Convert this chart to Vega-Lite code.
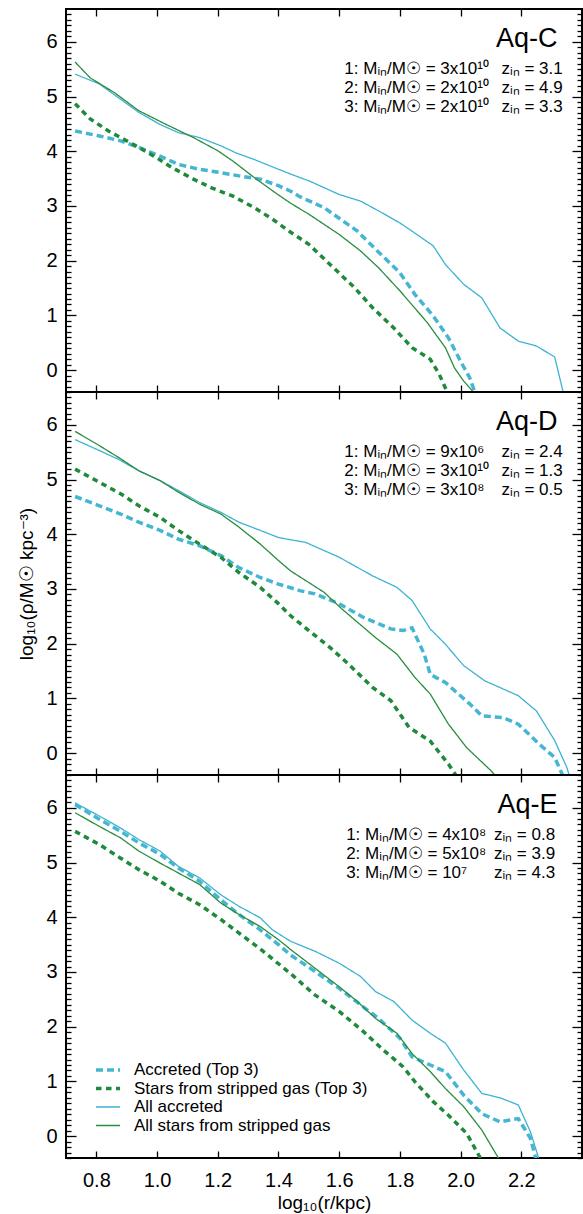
{
  "$schema": "https://vega.github.io/schema/vega-lite/v6.json",
  "background": "white",
  "padding": {"left": 16, "top": 7, "right": 0, "bottom": 0},
  "spacing": 0,
  "bounds": "flush",
  "config": {
    "font": "Liberation Sans",
    "view": {"stroke": "black", "strokeWidth": 2},
    "axis": {"grid": false, "domain": false, "tickColor": "black", "labelColor": "black", "titleColor": "black", "labelFont": "Liberation Sans", "titleFont": "Liberation Sans", "titleFontWeight": "normal", "labelFontSize": 20, "tickWidth": 1.3},
    "text": {"font": "Liberation Sans", "color": "black"}
  },
  "datasets": {
    "profiles": [
      {"panel": "Aq-C", "series": "Accreted (Top 3)", "logr": 0.73, "logrho": 4.37},
      {"panel": "Aq-C", "series": "Accreted (Top 3)", "logr": 0.81, "logrho": 4.28},
      {"panel": "Aq-C", "series": "Accreted (Top 3)", "logr": 0.88, "logrho": 4.19},
      {"panel": "Aq-C", "series": "Accreted (Top 3)", "logr": 0.94, "logrho": 4.07},
      {"panel": "Aq-C", "series": "Accreted (Top 3)", "logr": 1.01, "logrho": 3.91},
      {"panel": "Aq-C", "series": "Accreted (Top 3)", "logr": 1.07, "logrho": 3.76},
      {"panel": "Aq-C", "series": "Accreted (Top 3)", "logr": 1.14, "logrho": 3.67},
      {"panel": "Aq-C", "series": "Accreted (Top 3)", "logr": 1.21, "logrho": 3.61},
      {"panel": "Aq-C", "series": "Accreted (Top 3)", "logr": 1.27, "logrho": 3.55},
      {"panel": "Aq-C", "series": "Accreted (Top 3)", "logr": 1.34, "logrho": 3.49},
      {"panel": "Aq-C", "series": "Accreted (Top 3)", "logr": 1.40, "logrho": 3.37},
      {"panel": "Aq-C", "series": "Accreted (Top 3)", "logr": 1.44, "logrho": 3.27},
      {"panel": "Aq-C", "series": "Accreted (Top 3)", "logr": 1.47, "logrho": 3.17},
      {"panel": "Aq-C", "series": "Accreted (Top 3)", "logr": 1.55, "logrho": 2.97},
      {"panel": "Aq-C", "series": "Accreted (Top 3)", "logr": 1.66, "logrho": 2.54},
      {"panel": "Aq-C", "series": "Accreted (Top 3)", "logr": 1.72, "logrho": 2.21},
      {"panel": "Aq-C", "series": "Accreted (Top 3)", "logr": 1.80, "logrho": 1.78},
      {"panel": "Aq-C", "series": "Accreted (Top 3)", "logr": 1.85, "logrho": 1.38},
      {"panel": "Aq-C", "series": "Accreted (Top 3)", "logr": 1.91, "logrho": 0.99},
      {"panel": "Aq-C", "series": "Accreted (Top 3)", "logr": 1.96, "logrho": 0.59},
      {"panel": "Aq-C", "series": "Accreted (Top 3)", "logr": 2.00, "logrho": 0.16},
      {"panel": "Aq-C", "series": "Accreted (Top 3)", "logr": 2.03, "logrho": -0.14},
      {"panel": "Aq-C", "series": "Accreted (Top 3)", "logr": 2.05, "logrho": -0.45},

      {"panel": "Aq-C", "series": "Stars from stripped gas (Top 3)", "logr": 0.73, "logrho": 4.87},
      {"panel": "Aq-C", "series": "Stars from stripped gas (Top 3)", "logr": 0.78, "logrho": 4.59},
      {"panel": "Aq-C", "series": "Stars from stripped gas (Top 3)", "logr": 0.84, "logrho": 4.37},
      {"panel": "Aq-C", "series": "Stars from stripped gas (Top 3)", "logr": 0.92, "logrho": 4.13},
      {"panel": "Aq-C", "series": "Stars from stripped gas (Top 3)", "logr": 0.99, "logrho": 3.91},
      {"panel": "Aq-C", "series": "Stars from stripped gas (Top 3)", "logr": 1.05, "logrho": 3.70},
      {"panel": "Aq-C", "series": "Stars from stripped gas (Top 3)", "logr": 1.12, "logrho": 3.49},
      {"panel": "Aq-C", "series": "Stars from stripped gas (Top 3)", "logr": 1.18, "logrho": 3.33},
      {"panel": "Aq-C", "series": "Stars from stripped gas (Top 3)", "logr": 1.25, "logrho": 3.18},
      {"panel": "Aq-C", "series": "Stars from stripped gas (Top 3)", "logr": 1.32, "logrho": 2.97},
      {"panel": "Aq-C", "series": "Stars from stripped gas (Top 3)", "logr": 1.38, "logrho": 2.76},
      {"panel": "Aq-C", "series": "Stars from stripped gas (Top 3)", "logr": 1.44, "logrho": 2.52},
      {"panel": "Aq-C", "series": "Stars from stripped gas (Top 3)", "logr": 1.50, "logrho": 2.30},
      {"panel": "Aq-C", "series": "Stars from stripped gas (Top 3)", "logr": 1.57, "logrho": 1.93},
      {"panel": "Aq-C", "series": "Stars from stripped gas (Top 3)", "logr": 1.65, "logrho": 1.51},
      {"panel": "Aq-C", "series": "Stars from stripped gas (Top 3)", "logr": 1.71, "logrho": 1.14},
      {"panel": "Aq-C", "series": "Stars from stripped gas (Top 3)", "logr": 1.78, "logrho": 0.77},
      {"panel": "Aq-C", "series": "Stars from stripped gas (Top 3)", "logr": 1.84, "logrho": 0.41},
      {"panel": "Aq-C", "series": "Stars from stripped gas (Top 3)", "logr": 1.90, "logrho": 0.20},
      {"panel": "Aq-C", "series": "Stars from stripped gas (Top 3)", "logr": 1.93, "logrho": -0.08},
      {"panel": "Aq-C", "series": "Stars from stripped gas (Top 3)", "logr": 1.96, "logrho": -0.45},

      {"panel": "Aq-C", "series": "All accreted", "logr": 0.73, "logrho": 5.41},
      {"panel": "Aq-C", "series": "All accreted", "logr": 0.81, "logrho": 5.23},
      {"panel": "Aq-C", "series": "All accreted", "logr": 0.94, "logrho": 4.71},
      {"panel": "Aq-C", "series": "All accreted", "logr": 1.01, "logrho": 4.49},
      {"panel": "Aq-C", "series": "All accreted", "logr": 1.07, "logrho": 4.34},
      {"panel": "Aq-C", "series": "All accreted", "logr": 1.14, "logrho": 4.25},
      {"panel": "Aq-C", "series": "All accreted", "logr": 1.21, "logrho": 4.10},
      {"panel": "Aq-C", "series": "All accreted", "logr": 1.26, "logrho": 3.97},
      {"panel": "Aq-C", "series": "All accreted", "logr": 1.32, "logrho": 3.85},
      {"panel": "Aq-C", "series": "All accreted", "logr": 1.36, "logrho": 3.76},
      {"panel": "Aq-C", "series": "All accreted", "logr": 1.40, "logrho": 3.67},
      {"panel": "Aq-C", "series": "All accreted", "logr": 1.47, "logrho": 3.52},
      {"panel": "Aq-C", "series": "All accreted", "logr": 1.50, "logrho": 3.46},
      {"panel": "Aq-C", "series": "All accreted", "logr": 1.60, "logrho": 3.21},
      {"panel": "Aq-C", "series": "All accreted", "logr": 1.67, "logrho": 3.09},
      {"panel": "Aq-C", "series": "All accreted", "logr": 1.73, "logrho": 2.91},
      {"panel": "Aq-C", "series": "All accreted", "logr": 1.80, "logrho": 2.69},
      {"panel": "Aq-C", "series": "All accreted", "logr": 1.84, "logrho": 2.54},
      {"panel": "Aq-C", "series": "All accreted", "logr": 1.91, "logrho": 2.27},
      {"panel": "Aq-C", "series": "All accreted", "logr": 1.95, "logrho": 1.93},
      {"panel": "Aq-C", "series": "All accreted", "logr": 2.01, "logrho": 1.57},
      {"panel": "Aq-C", "series": "All accreted", "logr": 2.07, "logrho": 1.32},
      {"panel": "Aq-C", "series": "All accreted", "logr": 2.13, "logrho": 0.77},
      {"panel": "Aq-C", "series": "All accreted", "logr": 2.19, "logrho": 0.53},
      {"panel": "Aq-C", "series": "All accreted", "logr": 2.25, "logrho": 0.44},
      {"panel": "Aq-C", "series": "All accreted", "logr": 2.31, "logrho": 0.24},
      {"panel": "Aq-C", "series": "All accreted", "logr": 2.34, "logrho": -0.45},

      {"panel": "Aq-C", "series": "All stars from stripped gas", "logr": 0.73, "logrho": 5.63},
      {"panel": "Aq-C", "series": "All stars from stripped gas", "logr": 0.78, "logrho": 5.34},
      {"panel": "Aq-C", "series": "All stars from stripped gas", "logr": 0.86, "logrho": 5.07},
      {"panel": "Aq-C", "series": "All stars from stripped gas", "logr": 0.94, "logrho": 4.74},
      {"panel": "Aq-C", "series": "All stars from stripped gas", "logr": 1.03, "logrho": 4.49},
      {"panel": "Aq-C", "series": "All stars from stripped gas", "logr": 1.12, "logrho": 4.25},
      {"panel": "Aq-C", "series": "All stars from stripped gas", "logr": 1.20, "logrho": 4.01},
      {"panel": "Aq-C", "series": "All stars from stripped gas", "logr": 1.25, "logrho": 3.82},
      {"panel": "Aq-C", "series": "All stars from stripped gas", "logr": 1.32, "logrho": 3.52},
      {"panel": "Aq-C", "series": "All stars from stripped gas", "logr": 1.39, "logrho": 3.24},
      {"panel": "Aq-C", "series": "All stars from stripped gas", "logr": 1.44, "logrho": 3.05},
      {"panel": "Aq-C", "series": "All stars from stripped gas", "logr": 1.50, "logrho": 2.85},
      {"panel": "Aq-C", "series": "All stars from stripped gas", "logr": 1.60, "logrho": 2.48},
      {"panel": "Aq-C", "series": "All stars from stripped gas", "logr": 1.67, "logrho": 2.18},
      {"panel": "Aq-C", "series": "All stars from stripped gas", "logr": 1.73, "logrho": 1.87},
      {"panel": "Aq-C", "series": "All stars from stripped gas", "logr": 1.80, "logrho": 1.45},
      {"panel": "Aq-C", "series": "All stars from stripped gas", "logr": 1.89, "logrho": 0.87},
      {"panel": "Aq-C", "series": "All stars from stripped gas", "logr": 1.95, "logrho": 0.41},
      {"panel": "Aq-C", "series": "All stars from stripped gas", "logr": 1.98, "logrho": 0.04},
      {"panel": "Aq-C", "series": "All stars from stripped gas", "logr": 2.01, "logrho": -0.20},
      {"panel": "Aq-C", "series": "All stars from stripped gas", "logr": 2.05, "logrho": -0.45},

      {"panel": "Aq-D", "series": "Accreted (Top 3)", "logr": 0.73, "logrho": 4.69},
      {"panel": "Aq-D", "series": "Accreted (Top 3)", "logr": 0.81, "logrho": 4.52},
      {"panel": "Aq-D", "series": "Accreted (Top 3)", "logr": 0.88, "logrho": 4.37},
      {"panel": "Aq-D", "series": "Accreted (Top 3)", "logr": 0.94, "logrho": 4.22},
      {"panel": "Aq-D", "series": "Accreted (Top 3)", "logr": 1.01, "logrho": 4.07},
      {"panel": "Aq-D", "series": "Accreted (Top 3)", "logr": 1.07, "logrho": 3.91},
      {"panel": "Aq-D", "series": "Accreted (Top 3)", "logr": 1.14, "logrho": 3.79},
      {"panel": "Aq-D", "series": "Accreted (Top 3)", "logr": 1.21, "logrho": 3.61},
      {"panel": "Aq-D", "series": "Accreted (Top 3)", "logr": 1.27, "logrho": 3.39},
      {"panel": "Aq-D", "series": "Accreted (Top 3)", "logr": 1.34, "logrho": 3.21},
      {"panel": "Aq-D", "series": "Accreted (Top 3)", "logr": 1.40, "logrho": 3.09},
      {"panel": "Aq-D", "series": "Accreted (Top 3)", "logr": 1.47, "logrho": 2.97},
      {"panel": "Aq-D", "series": "Accreted (Top 3)", "logr": 1.52, "logrho": 2.91},
      {"panel": "Aq-D", "series": "Accreted (Top 3)", "logr": 1.60, "logrho": 2.73},
      {"panel": "Aq-D", "series": "Accreted (Top 3)", "logr": 1.68, "logrho": 2.48},
      {"panel": "Aq-D", "series": "Accreted (Top 3)", "logr": 1.77, "logrho": 2.27},
      {"panel": "Aq-D", "series": "Accreted (Top 3)", "logr": 1.81, "logrho": 2.24},
      {"panel": "Aq-D", "series": "Accreted (Top 3)", "logr": 1.84, "logrho": 2.29},
      {"panel": "Aq-D", "series": "Accreted (Top 3)", "logr": 1.88, "logrho": 1.81},
      {"panel": "Aq-D", "series": "Accreted (Top 3)", "logr": 1.90, "logrho": 1.44},
      {"panel": "Aq-D", "series": "Accreted (Top 3)", "logr": 1.95, "logrho": 1.29},
      {"panel": "Aq-D", "series": "Accreted (Top 3)", "logr": 2.03, "logrho": 0.90},
      {"panel": "Aq-D", "series": "Accreted (Top 3)", "logr": 2.07, "logrho": 0.68},
      {"panel": "Aq-D", "series": "Accreted (Top 3)", "logr": 2.14, "logrho": 0.65},
      {"panel": "Aq-D", "series": "Accreted (Top 3)", "logr": 2.19, "logrho": 0.53},
      {"panel": "Aq-D", "series": "Accreted (Top 3)", "logr": 2.26, "logrho": 0.16},
      {"panel": "Aq-D", "series": "Accreted (Top 3)", "logr": 2.31, "logrho": -0.08},
      {"panel": "Aq-D", "series": "Accreted (Top 3)", "logr": 2.34, "logrho": -0.45},

      {"panel": "Aq-D", "series": "Stars from stripped gas (Top 3)", "logr": 0.73, "logrho": 5.19},
      {"panel": "Aq-D", "series": "Stars from stripped gas (Top 3)", "logr": 0.81, "logrho": 4.95},
      {"panel": "Aq-D", "series": "Stars from stripped gas (Top 3)", "logr": 0.88, "logrho": 4.74},
      {"panel": "Aq-D", "series": "Stars from stripped gas (Top 3)", "logr": 0.94, "logrho": 4.52},
      {"panel": "Aq-D", "series": "Stars from stripped gas (Top 3)", "logr": 1.01, "logrho": 4.31},
      {"panel": "Aq-D", "series": "Stars from stripped gas (Top 3)", "logr": 1.07, "logrho": 4.07},
      {"panel": "Aq-D", "series": "Stars from stripped gas (Top 3)", "logr": 1.14, "logrho": 3.82},
      {"panel": "Aq-D", "series": "Stars from stripped gas (Top 3)", "logr": 1.21, "logrho": 3.58},
      {"panel": "Aq-D", "series": "Stars from stripped gas (Top 3)", "logr": 1.27, "logrho": 3.30},
      {"panel": "Aq-D", "series": "Stars from stripped gas (Top 3)", "logr": 1.34, "logrho": 3.03},
      {"panel": "Aq-D", "series": "Stars from stripped gas (Top 3)", "logr": 1.40, "logrho": 2.73},
      {"panel": "Aq-D", "series": "Stars from stripped gas (Top 3)", "logr": 1.44, "logrho": 2.51},
      {"panel": "Aq-D", "series": "Stars from stripped gas (Top 3)", "logr": 1.50, "logrho": 2.24},
      {"panel": "Aq-D", "series": "Stars from stripped gas (Top 3)", "logr": 1.57, "logrho": 1.93},
      {"panel": "Aq-D", "series": "Stars from stripped gas (Top 3)", "logr": 1.63, "logrho": 1.63},
      {"panel": "Aq-D", "series": "Stars from stripped gas (Top 3)", "logr": 1.71, "logrho": 1.20},
      {"panel": "Aq-D", "series": "Stars from stripped gas (Top 3)", "logr": 1.77, "logrho": 0.96},
      {"panel": "Aq-D", "series": "Stars from stripped gas (Top 3)", "logr": 1.83, "logrho": 0.47},
      {"panel": "Aq-D", "series": "Stars from stripped gas (Top 3)", "logr": 1.90, "logrho": 0.22},
      {"panel": "Aq-D", "series": "Stars from stripped gas (Top 3)", "logr": 1.96, "logrho": -0.20},
      {"panel": "Aq-D", "series": "Stars from stripped gas (Top 3)", "logr": 1.99, "logrho": -0.45},

      {"panel": "Aq-D", "series": "All accreted", "logr": 0.73, "logrho": 5.73},
      {"panel": "Aq-D", "series": "All accreted", "logr": 0.81, "logrho": 5.53},
      {"panel": "Aq-D", "series": "All accreted", "logr": 0.88, "logrho": 5.35},
      {"panel": "Aq-D", "series": "All accreted", "logr": 0.94, "logrho": 5.16},
      {"panel": "Aq-D", "series": "All accreted", "logr": 1.01, "logrho": 4.98},
      {"panel": "Aq-D", "series": "All accreted", "logr": 1.07, "logrho": 4.80},
      {"panel": "Aq-D", "series": "All accreted", "logr": 1.14, "logrho": 4.58},
      {"panel": "Aq-D", "series": "All accreted", "logr": 1.21, "logrho": 4.40},
      {"panel": "Aq-D", "series": "All accreted", "logr": 1.27, "logrho": 4.22},
      {"panel": "Aq-D", "series": "All accreted", "logr": 1.34, "logrho": 4.07},
      {"panel": "Aq-D", "series": "All accreted", "logr": 1.40, "logrho": 3.94},
      {"panel": "Aq-D", "series": "All accreted", "logr": 1.45, "logrho": 3.89},
      {"panel": "Aq-D", "series": "All accreted", "logr": 1.49, "logrho": 3.85},
      {"panel": "Aq-D", "series": "All accreted", "logr": 1.60, "logrho": 3.58},
      {"panel": "Aq-D", "series": "All accreted", "logr": 1.71, "logrho": 3.24},
      {"panel": "Aq-D", "series": "All accreted", "logr": 1.79, "logrho": 3.03},
      {"panel": "Aq-D", "series": "All accreted", "logr": 1.84, "logrho": 2.79},
      {"panel": "Aq-D", "series": "All accreted", "logr": 1.90, "logrho": 2.27},
      {"panel": "Aq-D", "series": "All accreted", "logr": 1.95, "logrho": 1.99},
      {"panel": "Aq-D", "series": "All accreted", "logr": 2.01, "logrho": 1.60},
      {"panel": "Aq-D", "series": "All accreted", "logr": 2.08, "logrho": 1.32},
      {"panel": "Aq-D", "series": "All accreted", "logr": 2.19, "logrho": 1.05},
      {"panel": "Aq-D", "series": "All accreted", "logr": 2.25, "logrho": 0.77},
      {"panel": "Aq-D", "series": "All accreted", "logr": 2.31, "logrho": 0.23},
      {"panel": "Aq-D", "series": "All accreted", "logr": 2.35, "logrho": -0.26},
      {"panel": "Aq-D", "series": "All accreted", "logr": 2.36, "logrho": -0.45},

      {"panel": "Aq-D", "series": "All stars from stripped gas", "logr": 0.73, "logrho": 5.88},
      {"panel": "Aq-D", "series": "All stars from stripped gas", "logr": 0.81, "logrho": 5.62},
      {"panel": "Aq-D", "series": "All stars from stripped gas", "logr": 0.88, "logrho": 5.38},
      {"panel": "Aq-D", "series": "All stars from stripped gas", "logr": 0.94, "logrho": 5.16},
      {"panel": "Aq-D", "series": "All stars from stripped gas", "logr": 1.01, "logrho": 4.98},
      {"panel": "Aq-D", "series": "All stars from stripped gas", "logr": 1.07, "logrho": 4.77},
      {"panel": "Aq-D", "series": "All stars from stripped gas", "logr": 1.14, "logrho": 4.55},
      {"panel": "Aq-D", "series": "All stars from stripped gas", "logr": 1.21, "logrho": 4.37},
      {"panel": "Aq-D", "series": "All stars from stripped gas", "logr": 1.27, "logrho": 4.13},
      {"panel": "Aq-D", "series": "All stars from stripped gas", "logr": 1.34, "logrho": 3.82},
      {"panel": "Aq-D", "series": "All stars from stripped gas", "logr": 1.40, "logrho": 3.52},
      {"panel": "Aq-D", "series": "All stars from stripped gas", "logr": 1.44, "logrho": 3.33},
      {"panel": "Aq-D", "series": "All stars from stripped gas", "logr": 1.55, "logrho": 2.94},
      {"panel": "Aq-D", "series": "All stars from stripped gas", "logr": 1.61, "logrho": 2.63},
      {"panel": "Aq-D", "series": "All stars from stripped gas", "logr": 1.72, "logrho": 2.11},
      {"panel": "Aq-D", "series": "All stars from stripped gas", "logr": 1.79, "logrho": 1.81},
      {"panel": "Aq-D", "series": "All stars from stripped gas", "logr": 1.85, "logrho": 1.38},
      {"panel": "Aq-D", "series": "All stars from stripped gas", "logr": 1.90, "logrho": 1.08},
      {"panel": "Aq-D", "series": "All stars from stripped gas", "logr": 1.96, "logrho": 0.53},
      {"panel": "Aq-D", "series": "All stars from stripped gas", "logr": 2.02, "logrho": 0.10},
      {"panel": "Aq-D", "series": "All stars from stripped gas", "logr": 2.10, "logrho": -0.32},
      {"panel": "Aq-D", "series": "All stars from stripped gas", "logr": 2.12, "logrho": -0.45},

      {"panel": "Aq-E", "series": "Accreted (Top 3)", "logr": 0.73, "logrho": 6.06},
      {"panel": "Aq-E", "series": "Accreted (Top 3)", "logr": 0.81, "logrho": 5.79},
      {"panel": "Aq-E", "series": "Accreted (Top 3)", "logr": 0.88, "logrho": 5.57},
      {"panel": "Aq-E", "series": "Accreted (Top 3)", "logr": 0.94, "logrho": 5.36},
      {"panel": "Aq-E", "series": "Accreted (Top 3)", "logr": 1.01, "logrho": 5.15},
      {"panel": "Aq-E", "series": "Accreted (Top 3)", "logr": 1.07, "logrho": 4.90},
      {"panel": "Aq-E", "series": "Accreted (Top 3)", "logr": 1.14, "logrho": 4.66},
      {"panel": "Aq-E", "series": "Accreted (Top 3)", "logr": 1.21, "logrho": 4.32},
      {"panel": "Aq-E", "series": "Accreted (Top 3)", "logr": 1.27, "logrho": 4.05},
      {"panel": "Aq-E", "series": "Accreted (Top 3)", "logr": 1.34, "logrho": 3.77},
      {"panel": "Aq-E", "series": "Accreted (Top 3)", "logr": 1.40, "logrho": 3.50},
      {"panel": "Aq-E", "series": "Accreted (Top 3)", "logr": 1.44, "logrho": 3.31},
      {"panel": "Aq-E", "series": "Accreted (Top 3)", "logr": 1.52, "logrho": 3.01},
      {"panel": "Aq-E", "series": "Accreted (Top 3)", "logr": 1.60, "logrho": 2.70},
      {"panel": "Aq-E", "series": "Accreted (Top 3)", "logr": 1.67, "logrho": 2.40},
      {"panel": "Aq-E", "series": "Accreted (Top 3)", "logr": 1.73, "logrho": 2.15},
      {"panel": "Aq-E", "series": "Accreted (Top 3)", "logr": 1.80, "logrho": 1.79},
      {"panel": "Aq-E", "series": "Accreted (Top 3)", "logr": 1.84, "logrho": 1.45},
      {"panel": "Aq-E", "series": "Accreted (Top 3)", "logr": 1.90, "logrho": 1.30},
      {"panel": "Aq-E", "series": "Accreted (Top 3)", "logr": 1.95, "logrho": 1.18},
      {"panel": "Aq-E", "series": "Accreted (Top 3)", "logr": 2.01, "logrho": 0.75},
      {"panel": "Aq-E", "series": "Accreted (Top 3)", "logr": 2.07, "logrho": 0.41},
      {"panel": "Aq-E", "series": "Accreted (Top 3)", "logr": 2.13, "logrho": 0.26},
      {"panel": "Aq-E", "series": "Accreted (Top 3)", "logr": 2.19, "logrho": 0.32},
      {"panel": "Aq-E", "series": "Accreted (Top 3)", "logr": 2.23, "logrho": -0.04},
      {"panel": "Aq-E", "series": "Accreted (Top 3)", "logr": 2.25, "logrho": -0.45},

      {"panel": "Aq-E", "series": "Stars from stripped gas (Top 3)", "logr": 0.73, "logrho": 5.57},
      {"panel": "Aq-E", "series": "Stars from stripped gas (Top 3)", "logr": 0.81, "logrho": 5.33},
      {"panel": "Aq-E", "series": "Stars from stripped gas (Top 3)", "logr": 0.88, "logrho": 5.08},
      {"panel": "Aq-E", "series": "Stars from stripped gas (Top 3)", "logr": 0.94, "logrho": 4.87},
      {"panel": "Aq-E", "series": "Stars from stripped gas (Top 3)", "logr": 1.01, "logrho": 4.66},
      {"panel": "Aq-E", "series": "Stars from stripped gas (Top 3)", "logr": 1.07, "logrho": 4.44},
      {"panel": "Aq-E", "series": "Stars from stripped gas (Top 3)", "logr": 1.14, "logrho": 4.23},
      {"panel": "Aq-E", "series": "Stars from stripped gas (Top 3)", "logr": 1.21, "logrho": 3.96},
      {"panel": "Aq-E", "series": "Stars from stripped gas (Top 3)", "logr": 1.27, "logrho": 3.71},
      {"panel": "Aq-E", "series": "Stars from stripped gas (Top 3)", "logr": 1.34, "logrho": 3.42},
      {"panel": "Aq-E", "series": "Stars from stripped gas (Top 3)", "logr": 1.40, "logrho": 3.15},
      {"panel": "Aq-E", "series": "Stars from stripped gas (Top 3)", "logr": 1.44, "logrho": 2.97},
      {"panel": "Aq-E", "series": "Stars from stripped gas (Top 3)", "logr": 1.52, "logrho": 2.58},
      {"panel": "Aq-E", "series": "Stars from stripped gas (Top 3)", "logr": 1.60, "logrho": 2.28},
      {"panel": "Aq-E", "series": "Stars from stripped gas (Top 3)", "logr": 1.68, "logrho": 1.91},
      {"panel": "Aq-E", "series": "Stars from stripped gas (Top 3)", "logr": 1.74, "logrho": 1.60},
      {"panel": "Aq-E", "series": "Stars from stripped gas (Top 3)", "logr": 1.81, "logrho": 1.27},
      {"panel": "Aq-E", "series": "Stars from stripped gas (Top 3)", "logr": 1.85, "logrho": 0.99},
      {"panel": "Aq-E", "series": "Stars from stripped gas (Top 3)", "logr": 1.91, "logrho": 0.63},
      {"panel": "Aq-E", "series": "Stars from stripped gas (Top 3)", "logr": 1.96, "logrho": 0.38},
      {"panel": "Aq-E", "series": "Stars from stripped gas (Top 3)", "logr": 2.02, "logrho": 0.05},
      {"panel": "Aq-E", "series": "Stars from stripped gas (Top 3)", "logr": 2.06, "logrho": -0.35},
      {"panel": "Aq-E", "series": "Stars from stripped gas (Top 3)", "logr": 2.07, "logrho": -0.45},

      {"panel": "Aq-E", "series": "All accreted", "logr": 0.73, "logrho": 6.09},
      {"panel": "Aq-E", "series": "All accreted", "logr": 0.81, "logrho": 5.85},
      {"panel": "Aq-E", "series": "All accreted", "logr": 0.88, "logrho": 5.63},
      {"panel": "Aq-E", "series": "All accreted", "logr": 0.94, "logrho": 5.42},
      {"panel": "Aq-E", "series": "All accreted", "logr": 1.01, "logrho": 5.21},
      {"panel": "Aq-E", "series": "All accreted", "logr": 1.07, "logrho": 4.93},
      {"panel": "Aq-E", "series": "All accreted", "logr": 1.14, "logrho": 4.72},
      {"panel": "Aq-E", "series": "All accreted", "logr": 1.21, "logrho": 4.41},
      {"panel": "Aq-E", "series": "All accreted", "logr": 1.27, "logrho": 4.20},
      {"panel": "Aq-E", "series": "All accreted", "logr": 1.34, "logrho": 3.99},
      {"panel": "Aq-E", "series": "All accreted", "logr": 1.38, "logrho": 3.77},
      {"panel": "Aq-E", "series": "All accreted", "logr": 1.44, "logrho": 3.56},
      {"panel": "Aq-E", "series": "All accreted", "logr": 1.52, "logrho": 3.38},
      {"panel": "Aq-E", "series": "All accreted", "logr": 1.60, "logrho": 3.16},
      {"panel": "Aq-E", "series": "All accreted", "logr": 1.67, "logrho": 2.92},
      {"panel": "Aq-E", "series": "All accreted", "logr": 1.72, "logrho": 2.64},
      {"panel": "Aq-E", "series": "All accreted", "logr": 1.78, "logrho": 2.46},
      {"panel": "Aq-E", "series": "All accreted", "logr": 1.84, "logrho": 2.12},
      {"panel": "Aq-E", "series": "All accreted", "logr": 1.90, "logrho": 1.88},
      {"panel": "Aq-E", "series": "All accreted", "logr": 1.95, "logrho": 1.70},
      {"panel": "Aq-E", "series": "All accreted", "logr": 2.01, "logrho": 1.21},
      {"panel": "Aq-E", "series": "All accreted", "logr": 2.07, "logrho": 0.78},
      {"panel": "Aq-E", "series": "All accreted", "logr": 2.13, "logrho": 0.70},
      {"panel": "Aq-E", "series": "All accreted", "logr": 2.19, "logrho": 0.57},
      {"panel": "Aq-E", "series": "All accreted", "logr": 2.23, "logrho": 0.08},
      {"panel": "Aq-E", "series": "All accreted", "logr": 2.26, "logrho": -0.45},

      {"panel": "Aq-E", "series": "All stars from stripped gas", "logr": 0.73, "logrho": 5.91},
      {"panel": "Aq-E", "series": "All stars from stripped gas", "logr": 0.81, "logrho": 5.66},
      {"panel": "Aq-E", "series": "All stars from stripped gas", "logr": 0.88, "logrho": 5.45},
      {"panel": "Aq-E", "series": "All stars from stripped gas", "logr": 0.94, "logrho": 5.21},
      {"panel": "Aq-E", "series": "All stars from stripped gas", "logr": 1.01, "logrho": 4.99},
      {"panel": "Aq-E", "series": "All stars from stripped gas", "logr": 1.07, "logrho": 4.81},
      {"panel": "Aq-E", "series": "All stars from stripped gas", "logr": 1.14, "logrho": 4.60},
      {"panel": "Aq-E", "series": "All stars from stripped gas", "logr": 1.21, "logrho": 4.26},
      {"panel": "Aq-E", "series": "All stars from stripped gas", "logr": 1.27, "logrho": 4.05},
      {"panel": "Aq-E", "series": "All stars from stripped gas", "logr": 1.34, "logrho": 3.83},
      {"panel": "Aq-E", "series": "All stars from stripped gas", "logr": 1.40, "logrho": 3.59},
      {"panel": "Aq-E", "series": "All stars from stripped gas", "logr": 1.44, "logrho": 3.41},
      {"panel": "Aq-E", "series": "All stars from stripped gas", "logr": 1.52, "logrho": 3.07},
      {"panel": "Aq-E", "series": "All stars from stripped gas", "logr": 1.60, "logrho": 2.73},
      {"panel": "Aq-E", "series": "All stars from stripped gas", "logr": 1.66, "logrho": 2.46},
      {"panel": "Aq-E", "series": "All stars from stripped gas", "logr": 1.72, "logrho": 2.15},
      {"panel": "Aq-E", "series": "All stars from stripped gas", "logr": 1.79, "logrho": 1.88},
      {"panel": "Aq-E", "series": "All stars from stripped gas", "logr": 1.84, "logrho": 1.51},
      {"panel": "Aq-E", "series": "All stars from stripped gas", "logr": 1.90, "logrho": 1.18},
      {"panel": "Aq-E", "series": "All stars from stripped gas", "logr": 1.95, "logrho": 0.87},
      {"panel": "Aq-E", "series": "All stars from stripped gas", "logr": 2.01, "logrho": 0.54},
      {"panel": "Aq-E", "series": "All stars from stripped gas", "logr": 2.07, "logrho": 0.11},
      {"panel": "Aq-E", "series": "All stars from stripped gas", "logr": 2.13, "logrho": -0.45}
    ]
  },
  "resolve": {"legend": {"color": "independent", "strokeDash": "independent", "strokeWidth": "independent"}},
  "vconcat": [
    {
      "width": 516, "height": 383,
      "layer": [
        {
          "data": {"name": "profiles"},
          "transform": [{"filter": "datum.panel === 'Aq-C'"}],
          "mark": {"type": "line", "clip": true},
          "encoding": {
            "x": {"field": "logr", "type": "quantitative", "scale": {"domain": [0.7, 2.4], "nice": false, "zero": false},
                  "axis": {"orient": "bottom", "offset": 0, "values": [0.8, 1.0, 1.2, 1.4, 1.6, 1.8, 2.0, 2.2], "tickSize": -7, "labels": false, "title": null}},
            "y": {"field": "logrho", "type": "quantitative", "scale": {"domain": [-0.4, 6.6], "nice": false, "zero": false},
                  "axis": {"orient": "left", "offset": 0, "title": null, "values": [0, 1, 2, 3, 4, 5, 6], "format": "d", "tickSize": -10, "labelPadding": 19, "labelOverlap": false}},
            "color": {"field": "series", "type": "nominal", "legend": null,
                      "scale": {"domain": ["Accreted (Top 3)", "Stars from stripped gas (Top 3)", "All accreted", "All stars from stripped gas"], "range": ["#45b6d2", "#1f8a3c", "#3cb3d3", "#2a8c3e"]}},
            "strokeDash": {"field": "series", "type": "nominal", "legend": null,
                      "scale": {"domain": ["Accreted (Top 3)", "Stars from stripped gas (Top 3)", "All accreted", "All stars from stripped gas"], "range": [[7, 4], [5.5, 4.5], [1, 0], [1, 0]]}},
            "strokeWidth": {"field": "series", "type": "nominal", "legend": null,
                      "scale": {"type": "ordinal", "domain": ["Accreted (Top 3)", "Stars from stripped gas (Top 3)", "All accreted", "All stars from stripped gas"], "range": [3.5, 3.5, 1.3, 1.3]}}
          }
        },
        {
          "data": {"name": "profiles"},
          "transform": [{"filter": "datum.panel === 'Aq-C'"}],
          "mark": {"type": "point", "opacity": 0, "clip": true},
          "encoding": {
            "x": {"field": "logr", "type": "quantitative", "axis": {"orient": "top", "offset": 0, "values": [0.8, 1.0, 1.2, 1.4, 1.6, 1.8, 2.0, 2.2], "tickSize": -7, "labels": false, "title": null}},
            "y": {"field": "logrho", "type": "quantitative", "axis": {"orient": "right", "offset": 0, "title": null, "labels": false, "values": [0, 1, 2, 3, 4, 5, 6], "tickSize": -10}}
          }
        },
        {
          "data": {"name": "profiles"},
          "transform": [{"filter": "datum.panel === 'Aq-C'"}],
          "mark": {"type": "point", "opacity": 0, "clip": true},
          "encoding": {
            "x": {"field": "logr", "type": "quantitative", "axis": null},
            "y": {"field": "logrho", "type": "quantitative", "axis": {"orient": "left", "offset": 0, "title": null, "labels": false, "tickSize": -5,
                  "values": [-0.4,-0.3,-0.2,-0.1,0.1,0.2,0.3,0.4,0.5,0.6,0.7,0.8,0.9,1.1,1.2,1.3,1.4,1.5,1.6,1.7,1.8,1.9,2.1,2.2,2.3,2.4,2.5,2.6,2.7,2.8,2.9,3.1,3.2,3.3,3.4,3.5,3.6,3.7,3.8,3.9,4.1,4.2,4.3,4.4,4.5,4.6,4.7,4.8,4.9,5.1,5.2,5.3,5.4,5.5,5.6,5.7,5.8,5.9,6.1,6.2,6.3,6.4,6.5]}}
          }
        },
        {
          "data": {"name": "profiles"},
          "transform": [{"filter": "datum.panel === 'Aq-C'"}],
          "mark": {"type": "point", "opacity": 0, "clip": true},
          "encoding": {
            "x": {"field": "logr", "type": "quantitative", "axis": null},
            "y": {"field": "logrho", "type": "quantitative", "axis": {"orient": "right", "offset": 0, "title": null, "labels": false, "tickSize": -5,
                  "values": [-0.4,-0.3,-0.2,-0.1,0.1,0.2,0.3,0.4,0.5,0.6,0.7,0.8,0.9,1.1,1.2,1.3,1.4,1.5,1.6,1.7,1.8,1.9,2.1,2.2,2.3,2.4,2.5,2.6,2.7,2.8,2.9,3.1,3.2,3.3,3.4,3.5,3.6,3.7,3.8,3.9,4.1,4.2,4.3,4.4,4.5,4.6,4.7,4.8,4.9,5.1,5.2,5.3,5.4,5.5,5.6,5.7,5.8,5.9,6.1,6.2,6.3,6.4,6.5]}}
          }
        },
        {
          "data": {"values": [{"title": "Aq-C", "m": ["1: Mᵢₙ/M☉ = 3x10¹⁰", "2: Mᵢₙ/M☉ = 2x10¹⁰", "3: Mᵢₙ/M☉ = 2x10¹⁰"], "z": ["zᵢₙ = 3.1", "zᵢₙ = 4.9", "zᵢₙ = 3.3"]}]},
          "layer": [
            {"mark": {"type": "text", "align": "right", "baseline": "alphabetic", "fontSize": 27},
             "encoding": {"x": {"datum": 2.319, "type": "quantitative", "axis": null}, "y": {"datum": 5.9, "type": "quantitative", "axis": null}, "text": {"field": "title", "type": "nominal"}}},
            {"mark": {"type": "text", "align": "left", "baseline": "alphabetic", "fontSize": 17, "lineHeight": 19},
             "encoding": {"x": {"datum": 1.617, "type": "quantitative", "axis": null}, "y": {"datum": 5.41, "type": "quantitative", "axis": null}, "text": {"field": "m", "type": "nominal"}}},
            {"mark": {"type": "text", "align": "left", "baseline": "alphabetic", "fontSize": 17, "lineHeight": 19},
             "encoding": {"x": {"datum": 2.135, "type": "quantitative", "axis": null}, "y": {"datum": 5.41, "type": "quantitative", "axis": null}, "text": {"field": "z", "type": "nominal"}}}
          ]
        }
      ],
      "resolve": {"axis": {"x": "independent", "y": "independent"}}
    },
    {
      "width": 516, "height": 383,
      "layer": [
        {
          "data": {"name": "profiles"},
          "transform": [{"filter": "datum.panel === 'Aq-D'"}],
          "mark": {"type": "line", "clip": true},
          "encoding": {
            "x": {"field": "logr", "type": "quantitative", "scale": {"domain": [0.7, 2.4], "nice": false, "zero": false},
                  "axis": {"orient": "bottom", "offset": 0, "values": [0.8, 1.0, 1.2, 1.4, 1.6, 1.8, 2.0, 2.2], "tickSize": -7, "labels": false, "title": null}},
            "y": {"field": "logrho", "type": "quantitative", "scale": {"domain": [-0.4, 6.6], "nice": false, "zero": false},
                  "axis": {"orient": "left", "offset": 0, "title": "log₁₀(ρ/M☉ kpc⁻³)", "titleFontSize": 19, "titlePadding": 9, "values": [0, 1, 2, 3, 4, 5, 6], "format": "d", "tickSize": -10, "labelPadding": 19, "labelOverlap": false}},
            "color": {"field": "series", "type": "nominal", "legend": null,
                      "scale": {"domain": ["Accreted (Top 3)", "Stars from stripped gas (Top 3)", "All accreted", "All stars from stripped gas"], "range": ["#45b6d2", "#1f8a3c", "#3cb3d3", "#2a8c3e"]}},
            "strokeDash": {"field": "series", "type": "nominal", "legend": null,
                      "scale": {"domain": ["Accreted (Top 3)", "Stars from stripped gas (Top 3)", "All accreted", "All stars from stripped gas"], "range": [[7, 4], [5.5, 4.5], [1, 0], [1, 0]]}},
            "strokeWidth": {"field": "series", "type": "nominal", "legend": null,
                      "scale": {"type": "ordinal", "domain": ["Accreted (Top 3)", "Stars from stripped gas (Top 3)", "All accreted", "All stars from stripped gas"], "range": [3.5, 3.5, 1.3, 1.3]}}
          }
        },
        {
          "data": {"name": "profiles"},
          "transform": [{"filter": "datum.panel === 'Aq-D'"}],
          "mark": {"type": "point", "opacity": 0, "clip": true},
          "encoding": {
            "x": {"field": "logr", "type": "quantitative", "axis": {"orient": "top", "offset": 0, "values": [0.8, 1.0, 1.2, 1.4, 1.6, 1.8, 2.0, 2.2], "tickSize": -7, "labels": false, "title": null}},
            "y": {"field": "logrho", "type": "quantitative", "axis": {"orient": "right", "offset": 0, "title": null, "labels": false, "values": [0, 1, 2, 3, 4, 5, 6], "tickSize": -10}}
          }
        },
        {
          "data": {"name": "profiles"},
          "transform": [{"filter": "datum.panel === 'Aq-D'"}],
          "mark": {"type": "point", "opacity": 0, "clip": true},
          "encoding": {
            "x": {"field": "logr", "type": "quantitative", "axis": null},
            "y": {"field": "logrho", "type": "quantitative", "axis": {"orient": "left", "offset": 0, "title": null, "labels": false, "tickSize": -5,
                  "values": [-0.4,-0.3,-0.2,-0.1,0.1,0.2,0.3,0.4,0.5,0.6,0.7,0.8,0.9,1.1,1.2,1.3,1.4,1.5,1.6,1.7,1.8,1.9,2.1,2.2,2.3,2.4,2.5,2.6,2.7,2.8,2.9,3.1,3.2,3.3,3.4,3.5,3.6,3.7,3.8,3.9,4.1,4.2,4.3,4.4,4.5,4.6,4.7,4.8,4.9,5.1,5.2,5.3,5.4,5.5,5.6,5.7,5.8,5.9,6.1,6.2,6.3,6.4,6.5]}}
          }
        },
        {
          "data": {"name": "profiles"},
          "transform": [{"filter": "datum.panel === 'Aq-D'"}],
          "mark": {"type": "point", "opacity": 0, "clip": true},
          "encoding": {
            "x": {"field": "logr", "type": "quantitative", "axis": null},
            "y": {"field": "logrho", "type": "quantitative", "axis": {"orient": "right", "offset": 0, "title": null, "labels": false, "tickSize": -5,
                  "values": [-0.4,-0.3,-0.2,-0.1,0.1,0.2,0.3,0.4,0.5,0.6,0.7,0.8,0.9,1.1,1.2,1.3,1.4,1.5,1.6,1.7,1.8,1.9,2.1,2.2,2.3,2.4,2.5,2.6,2.7,2.8,2.9,3.1,3.2,3.3,3.4,3.5,3.6,3.7,3.8,3.9,4.1,4.2,4.3,4.4,4.5,4.6,4.7,4.8,4.9,5.1,5.2,5.3,5.4,5.5,5.6,5.7,5.8,5.9,6.1,6.2,6.3,6.4,6.5]}}
          }
        },
        {
          "data": {"values": [{"title": "Aq-D", "m": ["1: Mᵢₙ/M☉ = 9x10⁶", "2: Mᵢₙ/M☉ = 3x10¹⁰", "3: Mᵢₙ/M☉ = 3x10⁸"], "z": ["zᵢₙ = 2.4", "zᵢₙ = 1.3", "zᵢₙ = 0.5"]}]},
          "layer": [
            {"mark": {"type": "text", "align": "right", "baseline": "alphabetic", "fontSize": 27},
             "encoding": {"x": {"datum": 2.319, "type": "quantitative", "axis": null}, "y": {"datum": 5.9, "type": "quantitative", "axis": null}, "text": {"field": "title", "type": "nominal"}}},
            {"mark": {"type": "text", "align": "left", "baseline": "alphabetic", "fontSize": 17, "lineHeight": 19},
             "encoding": {"x": {"datum": 1.617, "type": "quantitative", "axis": null}, "y": {"datum": 5.41, "type": "quantitative", "axis": null}, "text": {"field": "m", "type": "nominal"}}},
            {"mark": {"type": "text", "align": "left", "baseline": "alphabetic", "fontSize": 17, "lineHeight": 19},
             "encoding": {"x": {"datum": 2.135, "type": "quantitative", "axis": null}, "y": {"datum": 5.41, "type": "quantitative", "axis": null}, "text": {"field": "z", "type": "nominal"}}}
          ]
        }
      ],
      "resolve": {"axis": {"x": "independent", "y": "independent"}}
    },
    {
      "width": 516, "height": 383,
      "layer": [
        {
          "data": {"name": "profiles"},
          "transform": [{"filter": "datum.panel === 'Aq-E'"}],
          "mark": {"type": "line", "clip": true},
          "encoding": {
            "x": {"field": "logr", "type": "quantitative", "scale": {"domain": [0.7, 2.4], "nice": false, "zero": false},
                  "axis": {"orient": "bottom", "offset": 0, "values": [0.8, 1.0, 1.2, 1.4, 1.6, 1.8, 2.0, 2.2], "tickSize": -7, "format": ".1f", "labelPadding": 19, "title": "log₁₀(r/kpc)", "titleFontSize": 19, "titlePadding": 3}},
            "y": {"field": "logrho", "type": "quantitative", "scale": {"domain": [-0.4, 6.6], "nice": false, "zero": false},
                  "axis": {"orient": "left", "offset": 0, "title": null, "values": [0, 1, 2, 3, 4, 5, 6], "format": "d", "tickSize": -10, "labelPadding": 19, "labelOverlap": false}},
            "color": {"field": "series", "type": "nominal",
                      "legend": {"title": null, "orient": "none", "legendX": 28, "legendY": 287, "symbolType": "stroke", "symbolSize": 576, "clipHeight": 16, "rowPadding": 1.5, "labelFontSize": 17, "labelFont": "Liberation Sans", "labelColor": "black", "labelOffset": 12, "labelLimit": 400, "padding": 0},
                      "scale": {"domain": ["Accreted (Top 3)", "Stars from stripped gas (Top 3)", "All accreted", "All stars from stripped gas"], "range": ["#45b6d2", "#1f8a3c", "#3cb3d3", "#2a8c3e"]}},
            "strokeDash": {"field": "series", "type": "nominal",
                      "legend": {"title": null, "orient": "none", "legendX": 28, "legendY": 287, "symbolType": "stroke", "symbolSize": 576, "clipHeight": 16, "rowPadding": 1.5, "labelFontSize": 17, "labelFont": "Liberation Sans", "labelColor": "black", "labelOffset": 12, "labelLimit": 400, "padding": 0},
                      "scale": {"domain": ["Accreted (Top 3)", "Stars from stripped gas (Top 3)", "All accreted", "All stars from stripped gas"], "range": [[7, 4], [5.5, 4.5], [1, 0], [1, 0]]}},
            "strokeWidth": {"field": "series", "type": "nominal",
                      "legend": {"title": null, "orient": "none", "legendX": 28, "legendY": 287, "symbolType": "stroke", "symbolSize": 576, "clipHeight": 16, "rowPadding": 1.5, "labelFontSize": 17, "labelFont": "Liberation Sans", "labelColor": "black", "labelOffset": 12, "labelLimit": 400, "padding": 0},
                      "scale": {"type": "ordinal", "domain": ["Accreted (Top 3)", "Stars from stripped gas (Top 3)", "All accreted", "All stars from stripped gas"], "range": [3.5, 3.5, 1.3, 1.3]}}
          }
        },
        {
          "data": {"name": "profiles"},
          "transform": [{"filter": "datum.panel === 'Aq-E'"}],
          "mark": {"type": "point", "opacity": 0, "clip": true},
          "encoding": {
            "x": {"field": "logr", "type": "quantitative", "axis": {"orient": "top", "offset": 0, "values": [0.8, 1.0, 1.2, 1.4, 1.6, 1.8, 2.0, 2.2], "tickSize": -7, "labels": false, "title": null}},
            "y": {"field": "logrho", "type": "quantitative", "axis": {"orient": "right", "offset": 0, "title": null, "labels": false, "values": [0, 1, 2, 3, 4, 5, 6], "tickSize": -10}}
          }
        },
        {
          "data": {"name": "profiles"},
          "transform": [{"filter": "datum.panel === 'Aq-E'"}],
          "mark": {"type": "point", "opacity": 0, "clip": true},
          "encoding": {
            "x": {"field": "logr", "type": "quantitative", "axis": null},
            "y": {"field": "logrho", "type": "quantitative", "axis": {"orient": "left", "offset": 0, "title": null, "labels": false, "tickSize": -5,
                  "values": [-0.4,-0.3,-0.2,-0.1,0.1,0.2,0.3,0.4,0.5,0.6,0.7,0.8,0.9,1.1,1.2,1.3,1.4,1.5,1.6,1.7,1.8,1.9,2.1,2.2,2.3,2.4,2.5,2.6,2.7,2.8,2.9,3.1,3.2,3.3,3.4,3.5,3.6,3.7,3.8,3.9,4.1,4.2,4.3,4.4,4.5,4.6,4.7,4.8,4.9,5.1,5.2,5.3,5.4,5.5,5.6,5.7,5.8,5.9,6.1,6.2,6.3,6.4,6.5]}}
          }
        },
        {
          "data": {"name": "profiles"},
          "transform": [{"filter": "datum.panel === 'Aq-E'"}],
          "mark": {"type": "point", "opacity": 0, "clip": true},
          "encoding": {
            "x": {"field": "logr", "type": "quantitative", "axis": null},
            "y": {"field": "logrho", "type": "quantitative", "axis": {"orient": "right", "offset": 0, "title": null, "labels": false, "tickSize": -5,
                  "values": [-0.4,-0.3,-0.2,-0.1,0.1,0.2,0.3,0.4,0.5,0.6,0.7,0.8,0.9,1.1,1.2,1.3,1.4,1.5,1.6,1.7,1.8,1.9,2.1,2.2,2.3,2.4,2.5,2.6,2.7,2.8,2.9,3.1,3.2,3.3,3.4,3.5,3.6,3.7,3.8,3.9,4.1,4.2,4.3,4.4,4.5,4.6,4.7,4.8,4.9,5.1,5.2,5.3,5.4,5.5,5.6,5.7,5.8,5.9,6.1,6.2,6.3,6.4,6.5]}}
          }
        },
        {
          "data": {"values": [{"title": "Aq-E", "m": ["1: Mᵢₙ/M☉ = 4x10⁸", "2: Mᵢₙ/M☉ = 5x10⁸", "3: Mᵢₙ/M☉ = 10⁷"], "z": ["zᵢₙ = 0.8", "zᵢₙ = 3.9", "zᵢₙ = 4.3"]}]},
          "layer": [
            {"mark": {"type": "text", "align": "right", "baseline": "alphabetic", "fontSize": 27},
             "encoding": {"x": {"datum": 2.319, "type": "quantitative", "axis": null}, "y": {"datum": 5.9, "type": "quantitative", "axis": null}, "text": {"field": "title", "type": "nominal"}}},
            {"mark": {"type": "text", "align": "left", "baseline": "alphabetic", "fontSize": 17, "lineHeight": 19},
             "encoding": {"x": {"datum": 1.623, "type": "quantitative", "axis": null}, "y": {"datum": 5.41, "type": "quantitative", "axis": null}, "text": {"field": "m", "type": "nominal"}}},
            {"mark": {"type": "text", "align": "left", "baseline": "alphabetic", "fontSize": 17, "lineHeight": 19},
             "encoding": {"x": {"datum": 2.11, "type": "quantitative", "axis": null}, "y": {"datum": 5.41, "type": "quantitative", "axis": null}, "text": {"field": "z", "type": "nominal"}}}
          ]
        }
      ],
      "resolve": {"axis": {"x": "independent", "y": "independent"}}
    }
  ]
}
